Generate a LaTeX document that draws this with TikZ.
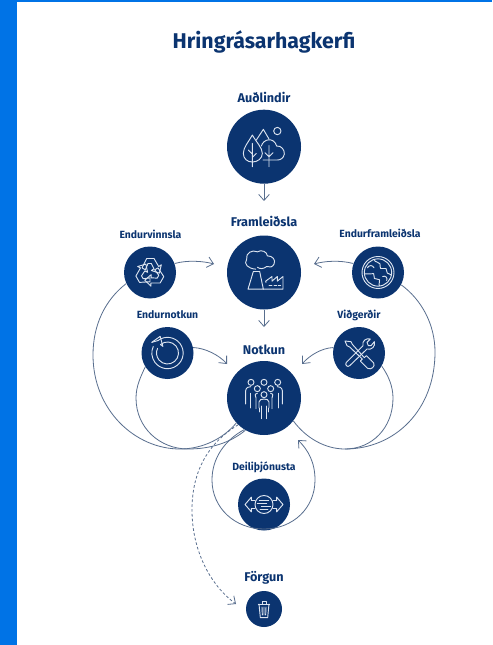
\documentclass[tikz,border=0pt]{standalone}
\usepackage{fontspec}
\setmainfont{Fira Sans}
\usetikzlibrary{arrows.meta}
\definecolor{navy}{HTML}{0B3470}
\definecolor{barblue}{HTML}{0073E6}
\definecolor{linkc}{HTML}{586E8E}
\definecolor{iconc}{HTML}{DCE4F0}
\tikzset{
  bigc/.style={circle,fill=navy,minimum size=55.5pt,inner sep=0pt},
  midc/.style={circle,fill=navy,minimum size=39pt,inner sep=0pt},
  smallc/.style={circle,fill=navy,minimum size=27pt,inner sep=0pt},
  biglab/.style={text=navy,font=\fontsize{9.5}{11}\selectfont\bfseries,inner sep=0pt},
  smalllab/.style={text=navy,font=\fontsize{7.8}{9}\selectfont\bfseries,inner sep=0pt},
  link/.style={draw=linkc,line width=0.6pt,-{Straight Barb[length=4.5pt,width=8pt]}},
  loopl/.style={draw=linkc,line width=0.6pt},
  icon/.style={draw=iconc,line width=0.7pt,line join=round,line cap=round},
}
\begin{document}
\begin{tikzpicture}[x=0.75pt,y=-0.75pt]
\useasboundingbox (0,0) rectangle (492,645);
\fill[white] (0,0) rectangle (492,645);
\fill[barblue] (0,0) rectangle (17,645);
\fill[barblue] (0,0) rectangle (492,2);

\node[text=navy,font=\fontsize{16}{18}\selectfont\bfseries,inner sep=0pt] (title) at (264,41.5) {Hringrásarhagkerfi};

\node[bigc] (aud) at (264,146.7) {};
\node[bigc] (fram) at (264,272.5) {};
\node[bigc] (notk) at (264,398) {};
\node[midc] (vinn) at (150,272.5) {};
\node[midc] (efram) at (378,272.5) {};
\node[midc] (enot) at (167.5,353) {};
\node[midc] (vidg) at (359,353) {};
\node[midc] (deil) at (264,504.5) {};
\node[smallc] (forg) at (264,609) {};

\node[biglab] (laud) at (264,97) {Auðlindir};
\node[biglab] (lfram) at (264,221.5) {Framleiðsla};
\node[biglab] (lnotk) at (264,349.5) {Notkun};
\node[biglab] (lforg) at (264,577.5) {Förgun};
\node[smalllab] (lvinn) at (150.5,234.5) {Endurvinnsla};
\node[smalllab] (lefram) at (380,233.5) {Endurframleiðsla};
\node[smalllab] (lenot) at (167.5,315) {Endurnotkun};
\node[smalllab] (lvidg) at (359,315) {Viðgerðir};
\node[smalllab] (ldeil) at (264,467) {Deiliþjónusta};

% straight and short links
\draw[link] (aud.south) -- (264,201) coordinate (c1);
\draw[link] (fram.south) -- (264,327) coordinate (c2);
\draw[link] (vinn.20) .. controls (187,260) and (203,261) .. (214,264) coordinate (c3);
\draw[link] (efram.160) .. controls (340,260) and (325,261) .. (314,264) coordinate (c4);
\draw[link] (enot.12) .. controls (205,348) and (219,355) .. (227,364) coordinate (c5);
\draw[link] (vidg.168) .. controls (322,348) and (310,355) .. (302,364) coordinate (c6);

% loops
\draw[loopl] (vinn.205) .. controls (105,300) and (93,325) .. (93,355)
  .. controls (93,410) and (135,449) .. (180,449)
  .. controls (203,449) and (224,438) .. (notk.222);
\draw[loopl] (enot.212) .. controls (141,376) and (136,386) .. (136,398)
  .. controls (136,428) and (160,449) .. (188,449)
  .. controls (210,449) and (230,443) .. (notk.240);
\draw[loopl] (efram.-28) .. controls (422,300) and (435,325) .. (435,352)
  .. controls (435,410) and (395,449) .. (345,449)
  .. controls (325,449) and (306,438) .. (notk.-38);
\draw[loopl] (vidg.-30) .. controls (388,375) and (393,386) .. (393,398)
  .. controls (393,428) and (372,449) .. (345,449);
\draw[link] (notk.238) .. controls (225,440) and (212,458) .. (212,480)
  .. controls (212,508) and (235,529) .. (264,529)
  .. controls (293,529) and (315,508) .. (315,480)
  .. controls (315,462) and (308,450) .. (298,440) coordinate (c7);
\draw[link,dash pattern=on 2pt off 1.6pt] (notk.226) .. controls (205,445) and (192,475) .. (192,510)
  .. controls (192,550) and (210,585) .. (236,604) coordinate (c8);

% icon: Auðlindir
\begin{scope}[shift={(aud.center)},x=0.25pt,y=-0.25pt,icon]
\draw (-35,-35) .. controls (-48,-12) and (-62,3) .. (-62,20) .. controls (-62,36) and (-50,46) .. (-35,46)
  .. controls (-20,46) and (-5,36) .. (-5,20) .. controls (-5,3) and (-22,-12) .. cycle;
\draw (-35,-10) -- (-35,60) (-35,22) -- (-47,10) (-35,32) -- (-23,20);
\draw (-23,-20) -- (-2,-52) -- (15,-23);
\draw (40,-47) circle (11);
\draw (-8,-2) .. controls (-2,-24) and (30,-30) .. (38,-2) .. controls (52,-4) and (62,10) .. (61,22)
  .. controls (59,34) and (50,40) .. (40,40) -- (-3,40);
\draw (15,-3) -- (15,60) (15,30) -- (3,18) (15,30) -- (27,18);
\end{scope}

% icon: Framleiðsla
\begin{scope}[shift={(fram.center)},x=0.25pt,y=-0.25pt,icon]
\draw (-25,-10) .. controls (-48,-12) and (-62,-25) .. (-52,-40) .. controls (-56,-58) and (-35,-70) .. (-20,-62)
  .. controls (-8,-70) and (10,-62) .. (10,-50) .. controls (26,-50) and (36,-38) .. (30,-25)
  .. controls (26,-16) and (16,-14) .. (8,-18) .. controls (-2,-10) and (-12,-10) .. (-20,-16);
\draw (-48,50) -- (-32,-3) -- (-13,-3) -- (-2,50) -- cycle;
\draw (-2,50) -- (57,50) -- (57,12) -- (40,26) -- (40,12) -- (24,26) -- (24,12) -- (5,26) -- (6,30);
\draw (15,40) -- (24,40) (30,40) -- (38,40) (43,40) -- (50,40);
\end{scope}

% icon: Endurvinnsla
\begin{scope}[shift={(vinn.center)},x=0.25pt,y=-0.25pt,icon]
\foreach \r in {0,120,240}{
\begin{scope}[rotate=\r]
\draw (-24,-14) -- (-10,-42) -- (12,-42) -- (26,-18) -- (34,-23) -- (28,2) -- (4,-6) -- (12,-11) -- (4,-27) -- (-6,-27) -- (-14,-8) -- cycle;
\end{scope}}
\end{scope}

% icon: Endurframleiðsla
\begin{scope}[shift={(efram.center)},x=0.25pt,y=-0.25pt,icon]
\draw (0,0) circle (48);
\draw (0,0) circle (41);
\draw (-12,-39) .. controls (-8,-28) and (2,-34) .. (6,-26) .. controls (10,-20) and (2,-16) .. (8,-12)
  .. controls (14,-8) and (18,-16) .. (24,-12) .. controls (30,-8) and (22,-2) .. (28,2) .. controls (32,6) and (36,2) .. (40,8);
\draw (-40,4) .. controls (-32,0) and (-28,8) .. (-22,4) .. controls (-16,0) and (-8,4) .. (-12,10)
  .. controls (-16,16) and (-8,22) .. (-2,20) .. controls (4,18) and (8,24) .. (4,30) .. controls (2,34) and (4,38) .. (4,40);
\draw (-32,-14) .. controls (-26,-24) and (-16,-22) .. (-12,-14);
\draw (14,12) .. controls (22,8) and (30,16) .. (26,24);
\end{scope}

% icon: Endurnotkun
\begin{scope}[shift={(enot.center)},x=0.25pt,y=-0.25pt,icon]
\draw (-28.3,-37.5) arc[start angle=-127,end angle=205,radius=47];
\draw (-21.2,-25.3) arc[start angle=-130,end angle=205,radius=33];
\draw (-47,-32) -- (-22,-50) -- (-14,-20);
\draw (-47,-32) -- (-28,-37.5);
\draw (-14,-20) -- (-21.2,-25.3);
\end{scope}

% icon: Viðgerðir
\begin{scope}[shift={(vidg.center)},x=0.25pt,y=-0.25pt,icon]
\draw (-42,-36) -- (-36,-22) -- (-28,-18) -- (10,18) -- (4,24) -- (26,46) .. controls (36,52) and (50,40) .. (44,30) -- (22,8) -- (16,14) -- (-20,-26) -- (-24,-34) -- cycle;
\draw (46,-34) .. controls (50,-20) and (38,-8) .. (24,-12) -- (-28,38) .. controls (-34,44) and (-44,36) .. (-38,28) -- (12,-22) .. controls (8,-36) and (22,-46) .. (34,-42) -- (24,-32) -- (28,-22) -- (36,-22) -- cycle;
\end{scope}

% icon: Notkun
\begin{scope}[shift={(notk.center)},x=0.25pt,y=-0.25pt,icon]
\foreach \hx/\hy in {-39/-47,0/-47,41/-47,-20/-28,20/-28,0/-10}{\draw (\hx,\hy) circle (9);}
\draw (-15,30) -- (-15,12) .. controls (-14,5) and (-8,3) .. (0,3) .. controls (8,3) and (14,5) .. (15,12) -- (15,30);
\draw (-7,62) -- (-7,24) (7,62) -- (7,24);
\draw (-24,32) -- (-24,0) .. controls (-28,-12) and (-26,-14) .. (-20,-14);
\draw (24,32) -- (24,0) .. controls (28,-12) and (26,-14) .. (20,-14);
\draw (-14,42) -- (-14,30) (14,42) -- (14,30);
\draw (-55,18) -- (-55,-22) .. controls (-54,-32) and (-46,-34) .. (-40,-34);
\draw (55,18) -- (55,-22) .. controls (54,-32) and (46,-34) .. (40,-34);
\draw (-42,30) -- (-42,-14) (42,30) -- (42,-14);
\end{scope}

% icon: Deiliþjónusta
\begin{scope}[shift={(deil.center)},x=0.25pt,y=-0.25pt,icon]
\draw (0,0) circle (27);
\draw (-14,-12) -- (14,-12) (-20,-3) -- (8,-3) (-8,6) -- (20,6) (-12,15) -- (12,15);
\draw (-27,-12) -- (-38,-12) -- (-38,-22) -- (-57,0) -- (-38,22) -- (-38,12) -- (-27,12);
\draw (27,-12) -- (38,-12) -- (38,-22) -- (57,0) -- (38,22) -- (38,12) -- (27,12);
\end{scope}

% icon: Förgun
\begin{scope}[shift={(forg.center)},x=0.25pt,y=-0.25pt,icon]
\draw (-17,-15) -- (17,-15);
\draw (-6,-15) -- (-6,-22) -- (6,-22) -- (6,-15);
\draw (-15,-15) -- (-11,26) -- (11,26) -- (15,-15);
\draw (-6,-6) -- (-5,18) (0,-6) -- (0,18) (6,-6) -- (5,18);
\end{scope}
\end{tikzpicture}
\end{document}
